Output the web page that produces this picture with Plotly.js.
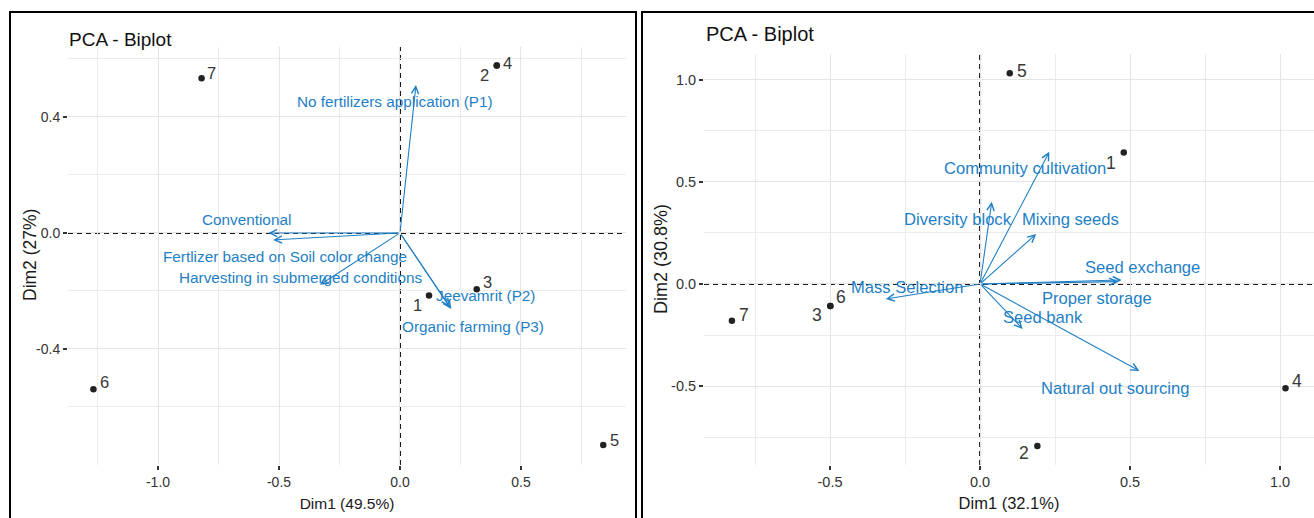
<!DOCTYPE html>
<html>
<head>
<meta charset="utf-8">
<script src="https://cdn.plot.ly/plotly-3.0.1.min.js"></script>
<style>
html,body{margin:0;padding:0;background:#fff;}
#chart{width:1314px;height:518px;}
</style>
</head>
<body>
<div id="chart"></div>
<script>
// ---------- Data: left biplot ----------
const leftTitle = "PCA - Biplot";
const leftXTitle = "Dim1 (49.5%)";
const leftYTitle = "Dim2 (27%)";
const leftIndLabels = ["1", "2", "3", "4", "5", "6", "7"];
const leftIndDim1 = [0.120, 0.400, 0.317, 0.400, 0.840, -1.267, -0.820];
const leftIndDim2 = [-0.216, 0.577, -0.194, 0.577, -0.731, -0.539, 0.533];
const leftVarNames = ["No fertilizers application (P1)", "Conventional",
  "Fertlizer based on Soil color change", "Harvesting in submerged conditions",
  "Jeevamrit (P2)", "Organic farming (P3)"];
const leftVarDim1 = [0.066, -0.544, -0.524, -0.331, 0.205, 0.212];
const leftVarDim2 = [0.510, 0.000, -0.024, -0.179, -0.255, -0.262];
const leftVarLabelDim1 = [-0.019, -0.636, -0.476, -0.409, 0.354, 0.303];
const leftVarLabelDim2 = [0.453, 0.045, -0.082, -0.155, -0.214, -0.321];
const leftXTicks = [-1.0, -0.5, 0.0, 0.5];
const leftXTickText = ["-1.0", "-0.5", "0.0", "0.5"];
const leftYTicks = [-0.4, 0.0, 0.4];
const leftYTickText = ["-0.4", "0.0", "0.4"];

// ---------- Data: right biplot ----------
const rightTitle = "PCA - Biplot";
const rightXTitle = "Dim1 (32.1%)";
const rightYTitle = "Dim2 (30.8%)";
const rightIndLabels = ["1", "2", "3", "4", "5", "6", "7"];
const rightIndDim1 = [0.479, 0.191, -0.499, 1.018, 0.099, -0.499, -0.827];
const rightIndDim2 = [0.644, -0.794, -0.108, -0.511, 1.033, -0.108, -0.180];
const rightVarNames = ["Community cultivation", "Diversity block", "Mixing seeds",
  "Seed exchange", "Proper storage", "Mass Selection", "Seed bank", "Natural out sourcing"];
const rightVarDim1 = [0.231, 0.039, 0.187, 0.472, 0.460, -0.314, 0.142, 0.531];
const rightVarDim2 = [0.648, 0.403, 0.245, 0.020, 0.012, -0.073, -0.220, -0.426];
const rightVarLabelDim1 = [0.150, -0.072, 0.302, 0.543, 0.390, -0.242, 0.210, 0.453];
const rightVarLabelDim2 = [0.567, 0.314, 0.314, 0.083, -0.069, -0.015, -0.162, -0.510];
const rightXTicks = [-0.5, 0.0, 0.5, 1.0];
const rightXTickText = ["-0.5", "0.0", "0.5", "1.0"];
const rightYTicks = [-0.5, 0.0, 0.5, 1.0];
const rightYTickText = ["-0.5", "0.0", "0.5", "1.0"];

// ---------- Styling / layout (not data) ----------
const W = 1314, H = 518;
const FONT = "Liberation Sans, Arial, Helvetica, sans-serif";
const BLUE = "#1f7fc6";
const DOT = "#222222";
const LABEL_GREY = "#383838";

// pixel offsets for individual labels (label placement style)
const leftIndShift = [[-12, -9], [-12, -9], [11, 7], [11, 3], [11, 5], [11, 7], [10, 5]];
const rightIndShift = [[-13, -10], [-13, -7], [-13, -9], [11, 7], [12, 2], [11, 9], [12, 6]];

function px2fx(p) { return p / W; }
function py2fy(p) { return 1 - p / H; }

function axisCommon(tickvals, ticktext, range, domain, anchor, titleText, titleSize, standoff, minorDtick, tickSize) {
  const ax = {
    domain: domain, range: range, anchor: anchor,
    tickmode: "array", tickvals: tickvals, ticktext: ticktext,
    ticks: "outside", ticklen: 4, tickwidth: 1.3, tickcolor: "#333",
    tickfont: {family: FONT, size: tickSize, color: "#333"},
    showgrid: true, gridcolor: "#e7e3e3", gridwidth: 1,
    minor: {dtick: minorDtick, tick0: 0, showgrid: true, gridcolor: "#eeebeb", gridwidth: 1, ticks: ""},
    zeroline: false, showline: false, fixedrange: true,
    automargin: false
  };
  if (titleText) ax.title = {text: titleText, font: {family: FONT, size: titleSize, color: "#1a1a1a"}, standoff: standoff};
  return ax;
}

const traces = [
  {x: leftIndDim1, y: leftIndDim2, text: leftIndLabels, type: "scatter", mode: "markers",
   xaxis: "x", yaxis: "y", marker: {size: 6.5, color: DOT}, hoverinfo: "text", showlegend: false},
  {x: rightIndDim1, y: rightIndDim2, text: rightIndLabels, type: "scatter", mode: "markers",
   xaxis: "x2", yaxis: "y2", marker: {size: 6.5, color: DOT}, hoverinfo: "text", showlegend: false}
];

const annotations = [];
function addPanel(xr, yr, names, vx, vy, lx, ly, ind, ix, iy, shifts, varSize, indSize) {
  for (let i = 0; i < names.length; i++) {
    annotations.push({
      xref: xr, yref: yr, axref: xr, ayref: yr,
      x: vx[i], y: vy[i], ax: 0, ay: 0, text: "",
      showarrow: true, arrowhead: 5, arrowsize: 1.3, arrowwidth: 1.1,
      arrowcolor: BLUE, standoff: 0, startstandoff: 0
    });
  }
  for (let i = 0; i < names.length; i++) {
    annotations.push({
      xref: xr, yref: yr, x: lx[i], y: ly[i], text: names[i], showarrow: false,
      xanchor: "center", yanchor: "middle",
      font: {family: FONT, size: varSize, color: BLUE}
    });
  }
  for (let i = 0; i < ind.length; i++) {
    annotations.push({
      xref: xr, yref: yr, x: ix[i], y: iy[i], text: ind[i], showarrow: false,
      xanchor: "center", yanchor: "middle",
      xshift: shifts[i][0], yshift: shifts[i][1],
      font: {family: FONT, size: indSize, color: LABEL_GREY}
    });
  }
}
addPanel("x", "y", leftVarNames, leftVarDim1, leftVarDim2, leftVarLabelDim1, leftVarLabelDim2,
  leftIndLabels, leftIndDim1, leftIndDim2, leftIndShift, 15.3, 16.5);
addPanel("x2", "y2", rightVarNames, rightVarDim1, rightVarDim2, rightVarLabelDim1, rightVarLabelDim2,
  rightIndLabels, rightIndDim1, rightIndDim2, rightIndShift, 16.6, 17.5);

// panel titles
annotations.push({xref: "paper", yref: "paper", x: px2fx(67), y: py2fy(40), xanchor: "left", yanchor: "middle",
  text: leftTitle, showarrow: false, font: {family: FONT, size: 19, color: "#111"}});
annotations.push({xref: "paper", yref: "paper", x: px2fx(704), y: py2fy(34), xanchor: "left", yanchor: "middle",
  text: rightTitle, showarrow: false, font: {family: FONT, size: 20, color: "#111"}});
// y-axis titles (rotated)
annotations.push({xref: "paper", yref: "paper", x: px2fx(30), y: py2fy(255), xanchor: "center", yanchor: "middle",
  textangle: -90, text: leftYTitle, showarrow: false, font: {family: FONT, size: 17.5, color: "#1a1a1a"}});
annotations.push({xref: "paper", yref: "paper", x: px2fx(661), y: py2fy(259), xanchor: "center", yanchor: "middle",
  textangle: -90, text: rightYTitle, showarrow: false, font: {family: FONT, size: 18, color: "#1a1a1a"}});

const dashStyle = {color: "#1a1a1a", width: 2, dash: "5px,4px"};
const shapes = [
  {type: "line", xref: "x", yref: "y domain", x0: 0, x1: 0, y0: 0, y1: 1, line: dashStyle, layer: "below"},
  {type: "line", xref: "x domain", yref: "y", x0: 0, x1: 1, y0: 0, y1: 0, line: dashStyle, layer: "below"},
  {type: "line", xref: "x2", yref: "y2 domain", x0: 0, x1: 0, y0: 0, y1: 1, line: dashStyle, layer: "below"},
  {type: "line", xref: "x2 domain", yref: "y2", x0: 0, x1: 1, y0: 0, y1: 0, line: dashStyle, layer: "below"},
  {type: "rect", xref: "paper", yref: "paper", x0: px2fx(10), x1: px2fx(636), y0: -0.1, y1: py2fy(12),
   line: {color: "#000", width: 2}, fillcolor: "rgba(0,0,0,0)"},
  {type: "rect", xref: "paper", yref: "paper", x0: px2fx(642), x1: 1.1, y0: -0.1, y1: py2fy(12),
   line: {color: "#000", width: 2}, fillcolor: "rgba(0,0,0,0)"}
];

const layout = {
  width: W, height: H,
  margin: {l: 0, r: 0, t: 0, b: 0, pad: 0},
  paper_bgcolor: "#fff", plot_bgcolor: "#fff",
  showlegend: false,
  font: {family: FONT},
  xaxis: axisCommon(leftXTicks, leftXTickText, [-1.372, 0.934], [px2fx(68), px2fx(626)], "y", leftXTitle, 15.5, 9, 0.25, 14),
  yaxis: axisCommon(leftYTicks, leftYTickText, [-0.80, 0.641], [py2fy(465), py2fy(47)], "x", null, 0, 0, 0.2, 14),
  xaxis2: axisCommon(rightXTicks, rightXTickText, [-0.92, 1.113], [px2fx(704), 1], "y2", rightXTitle, 16.5, 8, 0.25, 14.5),
  yaxis2: axisCommon(rightYTicks, rightYTickText, [-0.887, 1.127], [py2fy(465), py2fy(54)], "x2", null, 0, 0, 0.25, 14.5),
  annotations: annotations,
  shapes: shapes
};

Plotly.newPlot("chart", traces, layout, {displayModeBar: false, staticPlot: true});
</script>
</body>
</html>
